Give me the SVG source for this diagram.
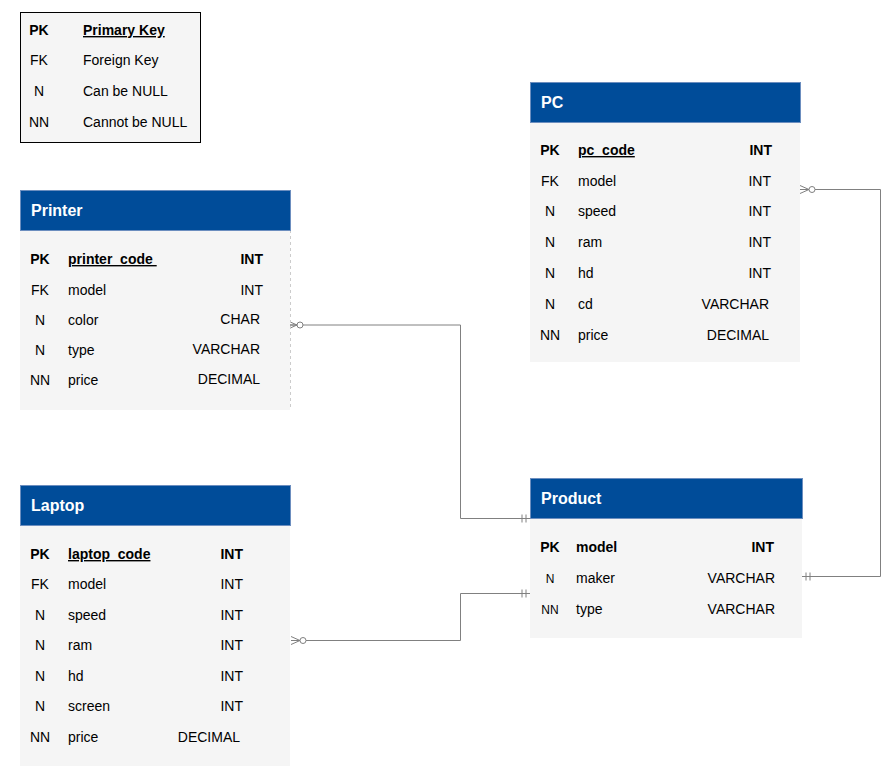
<svg xmlns="http://www.w3.org/2000/svg" width="891" height="766" viewBox="0 0 891 766">
<style>
text{font-family:"Liberation Sans",Arial,sans-serif;fill:#000}
.title{font-size:16px;font-weight:bold;fill:#fff}
.k{font-size:14px;text-anchor:middle}
.ks{font-size:12px;text-anchor:middle}
.f{font-size:14px}
.t{font-size:14px;text-anchor:end}
.b{font-weight:bold}
.u{text-decoration:underline}
.hdr{fill:#004C99;stroke:#6C8EBF;stroke-width:1}
.body{fill:#F5F5F5}
.conn{fill:none;stroke:#808080;stroke-width:1}
</style>
<defs>
<marker id="zeroMany" markerUnits="userSpaceOnUse" orient="auto" markerWidth="20" markerHeight="12" refX="0" refY="6" viewBox="0 0 20 12" overflow="visible">
<path d="M0,2 L9,6 M0,10 L9,6 M0,6 L9,6" fill="none" stroke="#808080" stroke-width="1"/>
<circle cx="12" cy="6" r="3" fill="#fff" stroke="#808080" stroke-width="1"/>
</marker>
<marker id="mandOne" markerUnits="userSpaceOnUse" orient="auto" markerWidth="12" markerHeight="12" refX="12" refY="6" viewBox="0 0 12 12" overflow="visible">
<path d="M4,2 V10 M8,2 V10" fill="none" stroke="#808080" stroke-width="1"/>
</marker>
</defs>

<g id="legend">
<rect x="20.5" y="12.5" width="180" height="130" fill="#F5F5F5" stroke="#000" stroke-width="1"/>
<text class="k b" x="39" y="35">PK</text>
<text class="f b u" x="83" y="35">Primary Key</text>
<text class="k" x="39" y="65">FK</text>
<text class="f" x="83" y="65">Foreign Key</text>
<text class="k" x="39" y="96">N</text>
<text class="f" x="83" y="96">Can be NULL</text>
<text class="k" x="39" y="127">NN</text>
<text class="f" x="83" y="127">Cannot be NULL</text>
</g>

<g id="connectors">
<path class="conn" d="M288,325 H460.5 V518.5 H530" marker-start="url(#zeroMany)" marker-end="url(#mandOne)"/>
<path class="conn" d="M291,640.5 H460.5 V593.5 H530" marker-start="url(#zeroMany)" marker-end="url(#mandOne)"/>
<path class="conn" d="M800,189.5 H880.5 V576.5 H802" marker-start="url(#zeroMany)" marker-end="url(#mandOne)"/>
</g>

<g id="printer">
<rect class="body" x="20" y="230" width="270" height="180"/>
<line x1="290.5" y1="230" x2="290.5" y2="410" stroke="#CCCCCC" stroke-dasharray="3,3"/>
<rect class="hdr" x="20.5" y="190.5" width="270" height="40"/>
<text class="title" x="31" y="216">Printer</text>
<text class="k b" x="40" y="264">PK</text>
<text class="f b u" x="68" y="264" xml:space="preserve">printer_code&#160;</text>
<text class="t b" x="263" y="264">INT</text>
<text class="k" x="40" y="295">FK</text>
<text class="f" x="68" y="295">model</text>
<text class="t" x="263" y="295">INT</text>
<text class="k" x="40" y="325">N</text>
<text class="f" x="68" y="325">color</text>
<text class="t" x="260" y="324">CHAR</text>
<text class="k" x="40" y="355">N</text>
<text class="f" x="68" y="355">type</text>
<text class="t" x="260" y="354">VARCHAR</text>
<text class="k" x="40" y="385">NN</text>
<text class="f" x="68" y="385">price</text>
<text class="t" x="260" y="384">DECIMAL</text>
</g>

<g id="laptop">
<rect class="body" x="20" y="525" width="270" height="241"/>
<rect class="hdr" x="20.5" y="485.5" width="270" height="40"/>
<text class="title" x="31" y="511">Laptop</text>
<text class="k b" x="40" y="559">PK</text>
<text class="f b u" x="68" y="559">laptop_code</text>
<text class="t b" x="243" y="559">INT</text>
<text class="k" x="40" y="589">FK</text>
<text class="f" x="68" y="589">model</text>
<text class="t" x="243" y="589">INT</text>
<text class="k" x="40" y="620">N</text>
<text class="f" x="68" y="620">speed</text>
<text class="t" x="243" y="620">INT</text>
<text class="k" x="40" y="650">N</text>
<text class="f" x="68" y="650">ram</text>
<text class="t" x="243" y="650">INT</text>
<text class="k" x="40" y="681">N</text>
<text class="f" x="68" y="681">hd</text>
<text class="t" x="243" y="681">INT</text>
<text class="k" x="40" y="711">N</text>
<text class="f" x="68" y="711">screen</text>
<text class="t" x="243" y="711">INT</text>
<text class="k" x="40" y="742">NN</text>
<text class="f" x="68" y="742">price</text>
<text class="t" x="240" y="742">DECIMAL</text>
</g>

<g id="pc">
<rect class="body" x="530" y="122" width="270" height="240"/>
<rect class="hdr" x="530.5" y="82.5" width="270" height="40"/>
<text class="title" x="541" y="108">PC</text>
<text class="k b" x="550" y="155">PK</text>
<text class="f b u" x="578" y="155">pc_code</text>
<text class="t b" x="772" y="155">INT</text>
<text class="k" x="550" y="186">FK</text>
<text class="f" x="578" y="186">model</text>
<text class="t" x="771" y="186">INT</text>
<text class="k" x="550" y="216">N</text>
<text class="f" x="578" y="216">speed</text>
<text class="t" x="771" y="216">INT</text>
<text class="k" x="550" y="247">N</text>
<text class="f" x="578" y="247">ram</text>
<text class="t" x="771" y="247">INT</text>
<text class="k" x="550" y="278">N</text>
<text class="f" x="578" y="278">hd</text>
<text class="t" x="771" y="278">INT</text>
<text class="k" x="550" y="309">N</text>
<text class="f" x="578" y="309">cd</text>
<text class="t" x="769" y="309">VARCHAR</text>
<text class="k" x="550" y="340">NN</text>
<text class="f" x="578" y="340">price</text>
<text class="t" x="769" y="340">DECIMAL</text>
</g>

<g id="product">
<rect class="body" x="530" y="518" width="272" height="120"/>
<rect class="hdr" x="530.5" y="478.5" width="272" height="40"/>
<text class="title" x="541" y="504">Product</text>
<text class="k b" x="550" y="552">PK</text>
<text class="f b" x="576" y="552">model</text>
<text class="t b" x="774" y="552">INT</text>
<text class="ks" x="550" y="583">N</text>
<text class="f" x="576" y="583">maker</text>
<text class="t" x="775" y="583">VARCHAR</text>
<text class="ks" x="550" y="614">NN</text>
<text class="f" x="576" y="614">type</text>
<text class="t" x="775" y="614">VARCHAR</text>
</g>
</svg>
